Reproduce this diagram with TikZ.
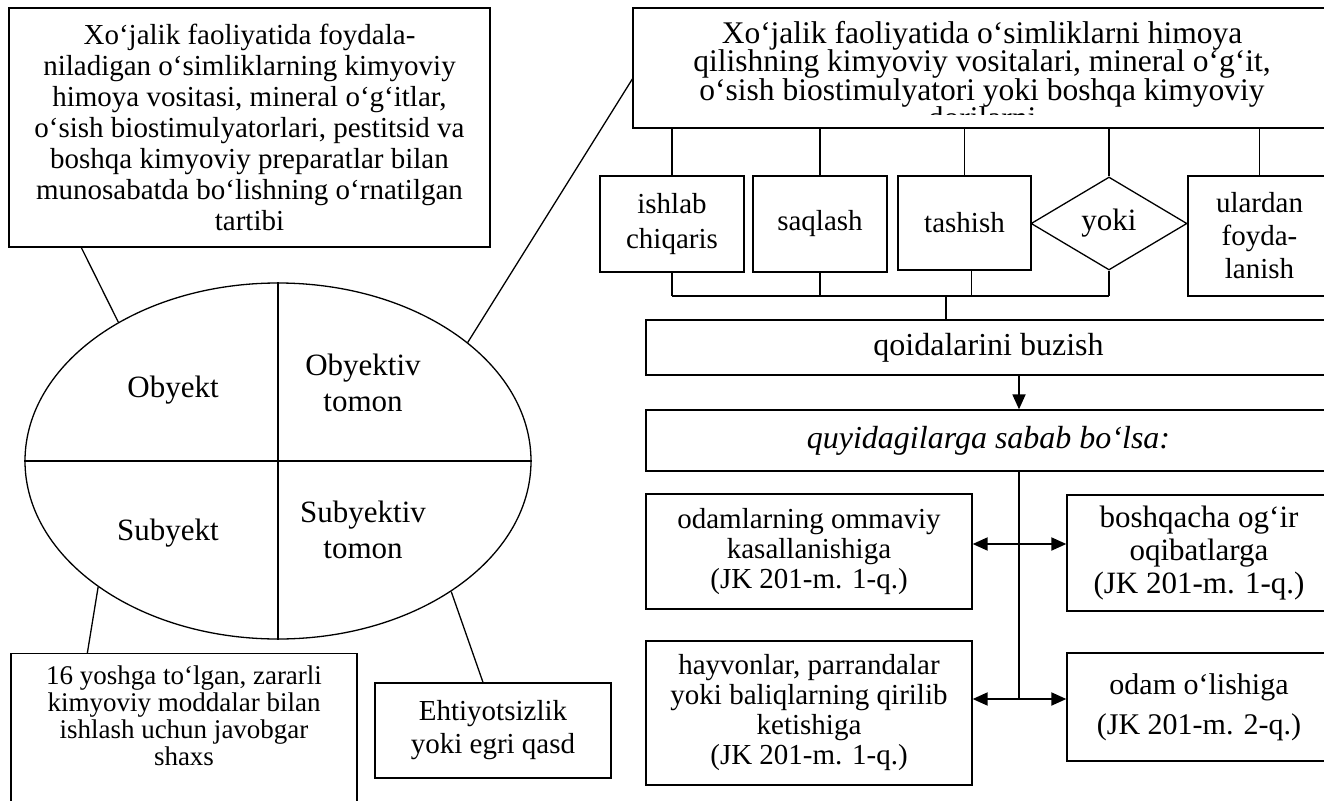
\documentclass[tikz,border=0pt]{standalone}
\usepackage{fontspec}
\setmainfont{Liberation Serif}
\usetikzlibrary{arrows.meta, positioning, shapes.geometric, calc}

\newcommand{\fsz}[2]{\fontsize{#1}{#2}\selectfont\lineskiplimit=-100pt}

\begin{document}
\begin{tikzpicture}[
    x=1pt, y=-1pt,
    rbox/.style={draw, line width=1.3pt, align=center, inner sep=0pt},
    txt/.style={align=center, inner sep=0pt},
    conn/.style={line width=1.3pt},
    arr/.style={line width=1.9pt, -{Triangle[length=15pt, width=13pt]}},
    darr/.style={line width=1.9pt, {Triangle[length=15pt, width=13pt]}-{Triangle[length=15pt, width=13pt]}}
]
    \useasboundingbox (0,0) rectangle (1324,800);
    \clip (0,0) rectangle (1324,800);

    % left part
    \node[rbox, minimum width=481pt, minimum height=239pt, font=\fsz{29}{31}] (tl) at (249.5,127.5)
        {Xo‘jalik faoliyatida foydala-\\niladigan o‘simliklarning kimyoviy\\himoya vositasi, mineral o‘g‘itlar,\\o‘sish biostimulyatorlari, pestitsid va\\boshqa kimyoviy preparatlar bilan\\munosabatda bo‘lishning o‘rnatilgan\\tartibi};

    \node[draw, ellipse, line width=1.3pt, minimum width=506pt, minimum height=356pt, inner sep=0pt] (ell) at (278,461) {};
    \draw[conn] (ell.north) -- (ell.south);
    \draw[conn] (ell.west) -- (ell.east);

    \node[txt, font=\fsz{31}{36}] (obj) at (173,390) {Obyekt};
    \node[txt, font=\fsz{31}{36}] (objt) at (363,383) {Obyektiv\\tomon};
    \node[txt, font=\fsz{31}{36}] (sub) at (168,533) {Subyekt};
    \node[txt, font=\fsz{31}{36}] (subt) at (363,530) {Subyektiv\\tomon};

    \node[draw, line width=1.3pt, minimum width=346pt, minimum height=180pt, anchor=north, inner sep=0pt] (yosh) at (184,653) {};
    \node[txt, font=\fsz{27}{27}, anchor=north] (yoshtxt) at ($(yosh.north)+(0,13)$)
        {16 yoshga to‘lgan, zararli\\kimyoviy moddalar bilan\\ishlash uchun javobgar\\shaxs};
    \node[rbox, minimum width=236pt, minimum height=95pt, font=\fsz{29}{33}] (eht) at (493,730.5) {Ehtiyotsizlik\\yoki egri qasd};

    \draw[conn] ($(tl.south west)+(73,0)$) -- (ell.139);
    \draw[conn] ($(yosh.north west)+(77,0)$) -- (ell.215.6);
    \draw[conn] ($(eht.north)+(-10,0)$) -- (ell.323);

    % right part
    \node[draw, line width=1.3pt, minimum width=698pt, minimum height=120pt, inner sep=0pt] (tr) at (982,68) {};
    \begin{scope}
        \clip (tr.north west) rectangle ($(tr.south east)+(0,-14)$);
        \node[txt, font=\fsz{31.5}{28.5}] (trtxt) at ($(tr.center)+(0,7)$)
            {Xo‘jalik faoliyatida o‘simliklarni himoya\\qilishning kimyoviy vositalari, mineral o‘g‘it,\\o‘sish biostimulyatori yoki boshqa kimyoviy\\dorilarni};
    \end{scope}
    \draw[conn] ($(tr.west)+(0,11)$) -- (ell.32.5);

    \node[rbox, minimum width=144pt, minimum height=96pt, font=\fsz{29}{35}] (ish) at (672,224) {ishlab\\chiqaris};
    \node[rbox, minimum width=134pt, minimum height=96pt, font=\fsz{29}{35}] (saq) at (820,224) {saqlash};
    \node[rbox, minimum width=133pt, minimum height=94pt, font=\fsz{29}{35}] (tash) at (964.5,223) {tashish};
    \node[draw, diamond, line width=1.3pt, minimum width=156pt, minimum height=93pt, inner sep=0pt, font=\fsz{31}{35}] (yoki) at (1109,223.5) {yoki};
    \node[rbox, minimum width=143pt, minimum height=120pt, font=\fsz{29}{33}] (ular) at (1259.5,236) {ulardan\\foyda-\\lanish};

    \draw[conn] (ish.north) -- (ish.north |- tr.south);
    \draw[conn] (saq.north) -- (saq.north |- tr.south);
    \draw[conn] (tash.north) -- (tash.north |- tr.south);
    \draw[conn] (yoki.north) -- (yoki.north |- tr.south);
    \draw[conn] (ular.north) -- (ular.north |- tr.south);

    \node[rbox, minimum width=685pt, minimum height=55pt, font=\fsz{32}{36}] (qoida) at (988.5,347.5) {qoidalarini buzish};
    \node[rbox, minimum width=685pt, minimum height=61pt, font=\fsz{32}{36}\itshape] (quy) at (988.5,440.5) {quyidagilarga sabab bo‘lsa:};

    \coordinate (bus) at (946,296);
    \draw[conn] (ish.south) -- (ish.south |- bus);
    \draw[conn] (saq.south) -- (saq.south |- bus);
    \draw[conn] ($(tash.south)+(7,0)$) -- ($(tash.south |- bus)+(7,0)$);
    \draw[conn] (yoki.south) -- (yoki.south |- bus);
    \draw[conn] (ish.south |- bus) -- (yoki.south |- bus);
    \draw[conn] (bus) -- (bus |- qoida.north);

    \node[rbox, minimum width=326pt, minimum height=115pt, font=\fsz{29}{30}] (odaml) at (809,551.5) {odamlarning ommaviy\\kasallanishiga\\(JK 201-m. 1-q.)};
    \node[rbox, minimum width=264pt, minimum height=116pt, font=\fsz{31}{33}] (bosh) at (1199,553) {boshqacha og‘ir\\oqibatlarga\\(JK 201-m. 1-q.)};
    \node[rbox, minimum width=326pt, minimum height=144pt, font=\fsz{29}{30}] (hayv) at (809,713) {hayvonlar, parrandalar\\yoki baliqlarning qirilib\\ketishiga\\(JK 201-m. 1-q.)};
    \node[rbox, minimum width=264pt, minimum height=108pt, font=\fsz{30}{40}] (odamol) at (1199,707) {odam o‘lishiga\\(JK 201-m. 2-q.)};

    \coordinate (spine) at (1019,699);
    \coordinate (upper) at (1019,544);
    \draw[arr] (qoida.south -| spine) -- (quy.north -| spine);
    \draw[conn] (quy.south -| spine) -- (spine);
    \draw[darr] (odaml.east |- upper) -- (bosh.west |- upper);
    \draw[darr] (hayv.east |- spine) -- (odamol.west |- spine);
\end{tikzpicture}
\end{document}
